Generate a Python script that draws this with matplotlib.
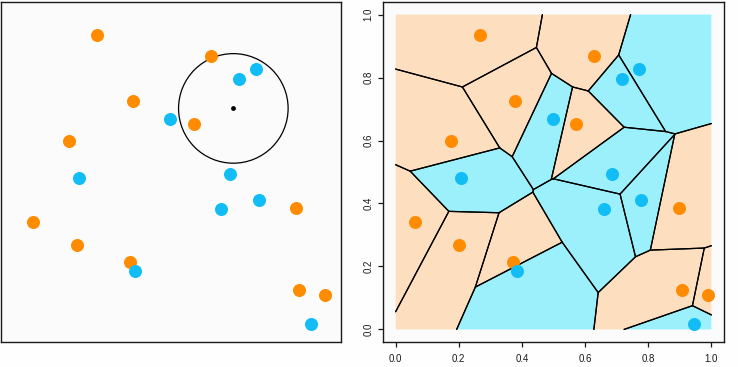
import numpy as np
import matplotlib
matplotlib.use("Agg")
import matplotlib.pyplot as plt
from matplotlib.patches import Polygon, Circle

# Data
orange_x = [0.266, 0.628, 0.379, 0.572, 0.176, 0.061, 0.201, 0.371, 0.897, 0.907, 0.990]
orange_y = [0.935, 0.869, 0.724, 0.651, 0.600, 0.341, 0.267, 0.213, 0.386, 0.125, 0.108]
blue_x = [0.771, 0.717, 0.498, 0.207, 0.686, 0.660, 0.778, 0.385, 0.945]
blue_y = [0.827, 0.794, 0.668, 0.481, 0.495, 0.382, 0.411, 0.186, 0.016]
test_x, test_y = 0.698, 0.702
radius = 0.174
ticks = [0.0, 0.2, 0.4, 0.6, 0.8, 1.0]
tick_labels = ["0.0", "0.2", "0.4", "0.6", "0.8", "1.0"]

ORANGE = "#FF8C00"
BLUE = "#12BDF5"
ORANGE_FILL = "#FDDFBF"
BLUE_FILL = "#9BF0FB"

pts = np.array(list(zip(orange_x, orange_y)) + list(zip(blue_x, blue_y)))
cls = ["o"] * len(orange_x) + ["b"] * len(blue_x)


def clip(poly, pi, pj):
    n = pj - pi
    m = (pi + pj) / 2
    f = lambda p: np.dot(p - m, n)
    out = []
    for k in range(len(poly)):
        a = poly[k]
        b = poly[(k + 1) % len(poly)]
        fa, fb = f(a), f(b)
        if fa <= 0:
            out.append(a)
        if (fa < 0 < fb) or (fb < 0 < fa):
            t = fa / (fa - fb)
            out.append(a + t * (b - a))
    return out


cells = []
for i in range(len(pts)):
    poly = [np.array(p, float) for p in [(0, 0), (1, 0), (1, 1), (0, 1)]]
    for j in range(len(pts)):
        if j != i and poly:
            poly = clip(poly, pts[i], pts[j])
    cells.append(np.array(poly))

plt.rcParams['font.family'] = ['Liberation Sans', 'DejaVu Sans']
fig = plt.figure(figsize=(7.38, 3.67), dpi=100, facecolor="#FEFEFE")
axL = fig.add_axes([1 / 738, 25 / 367, 340 / 738, 340 / 367])
axR = fig.add_axes([383 / 738, 25 / 367, 341 / 738, 340 / 367])

for ax in (axL, axR):
    ax.set_xlim(-0.04, 1.04)
    ax.set_ylim(-0.04, 1.04)
    ax.set_facecolor("#FBFBFB")
    for s in ax.spines.values():
        s.set_linewidth(1.0)
        s.set_color("#1A1A1A")

# Left panel
axL.set_xticks([])
axL.set_yticks([])
axL.add_patch(Circle((test_x, test_y), radius, fill=False, ec="black", lw=0.9, zorder=2))
axL.scatter(orange_x, orange_y, s=88, color=ORANGE, lw=0, zorder=3)
axL.scatter(blue_x, blue_y, s=88, color=BLUE, lw=0, zorder=4)
axL.scatter([test_x], [test_y], s=12, color="black", lw=0, zorder=5)

# Right panel: Voronoi / 1-NN regions
def on_border(a, b):
    e = 1e-9
    for k in range(2):
        for v in (0.0, 1.0):
            if abs(a[k] - v) < e and abs(b[k] - v) < e:
                return True
    return False

for c, poly in zip(cls, cells):
    axR.add_patch(Polygon(poly, closed=True, fc=ORANGE_FILL if c == "o" else BLUE_FILL,
                          ec="none", lw=0, zorder=1))
for poly in cells:
    for k in range(len(poly)):
        a, b = poly[k], poly[(k + 1) % len(poly)]
        if not on_border(a, b):
            axR.plot([a[0], b[0]], [a[1], b[1]], color="black", lw=0.9, zorder=2,
                     solid_capstyle="round")

axR.scatter(orange_x, orange_y, s=88, color=ORANGE, lw=0, zorder=3)
axR.scatter(blue_x, blue_y, s=88, color=BLUE, lw=0, zorder=4)

axR.set_xticks(ticks)
axR.set_xticklabels(tick_labels)
axR.set_yticks(ticks)
axR.set_yticklabels(tick_labels, rotation=90, va="center")
axR.tick_params(axis="both", length=3.8, width=0.9, labelsize=7, colors="#1A1A1A")
axR.tick_params(axis="x", pad=5)
axR.tick_params(axis="y", pad=3)

fig.savefig("out.png", dpi=100, facecolor=fig.get_facecolor())
